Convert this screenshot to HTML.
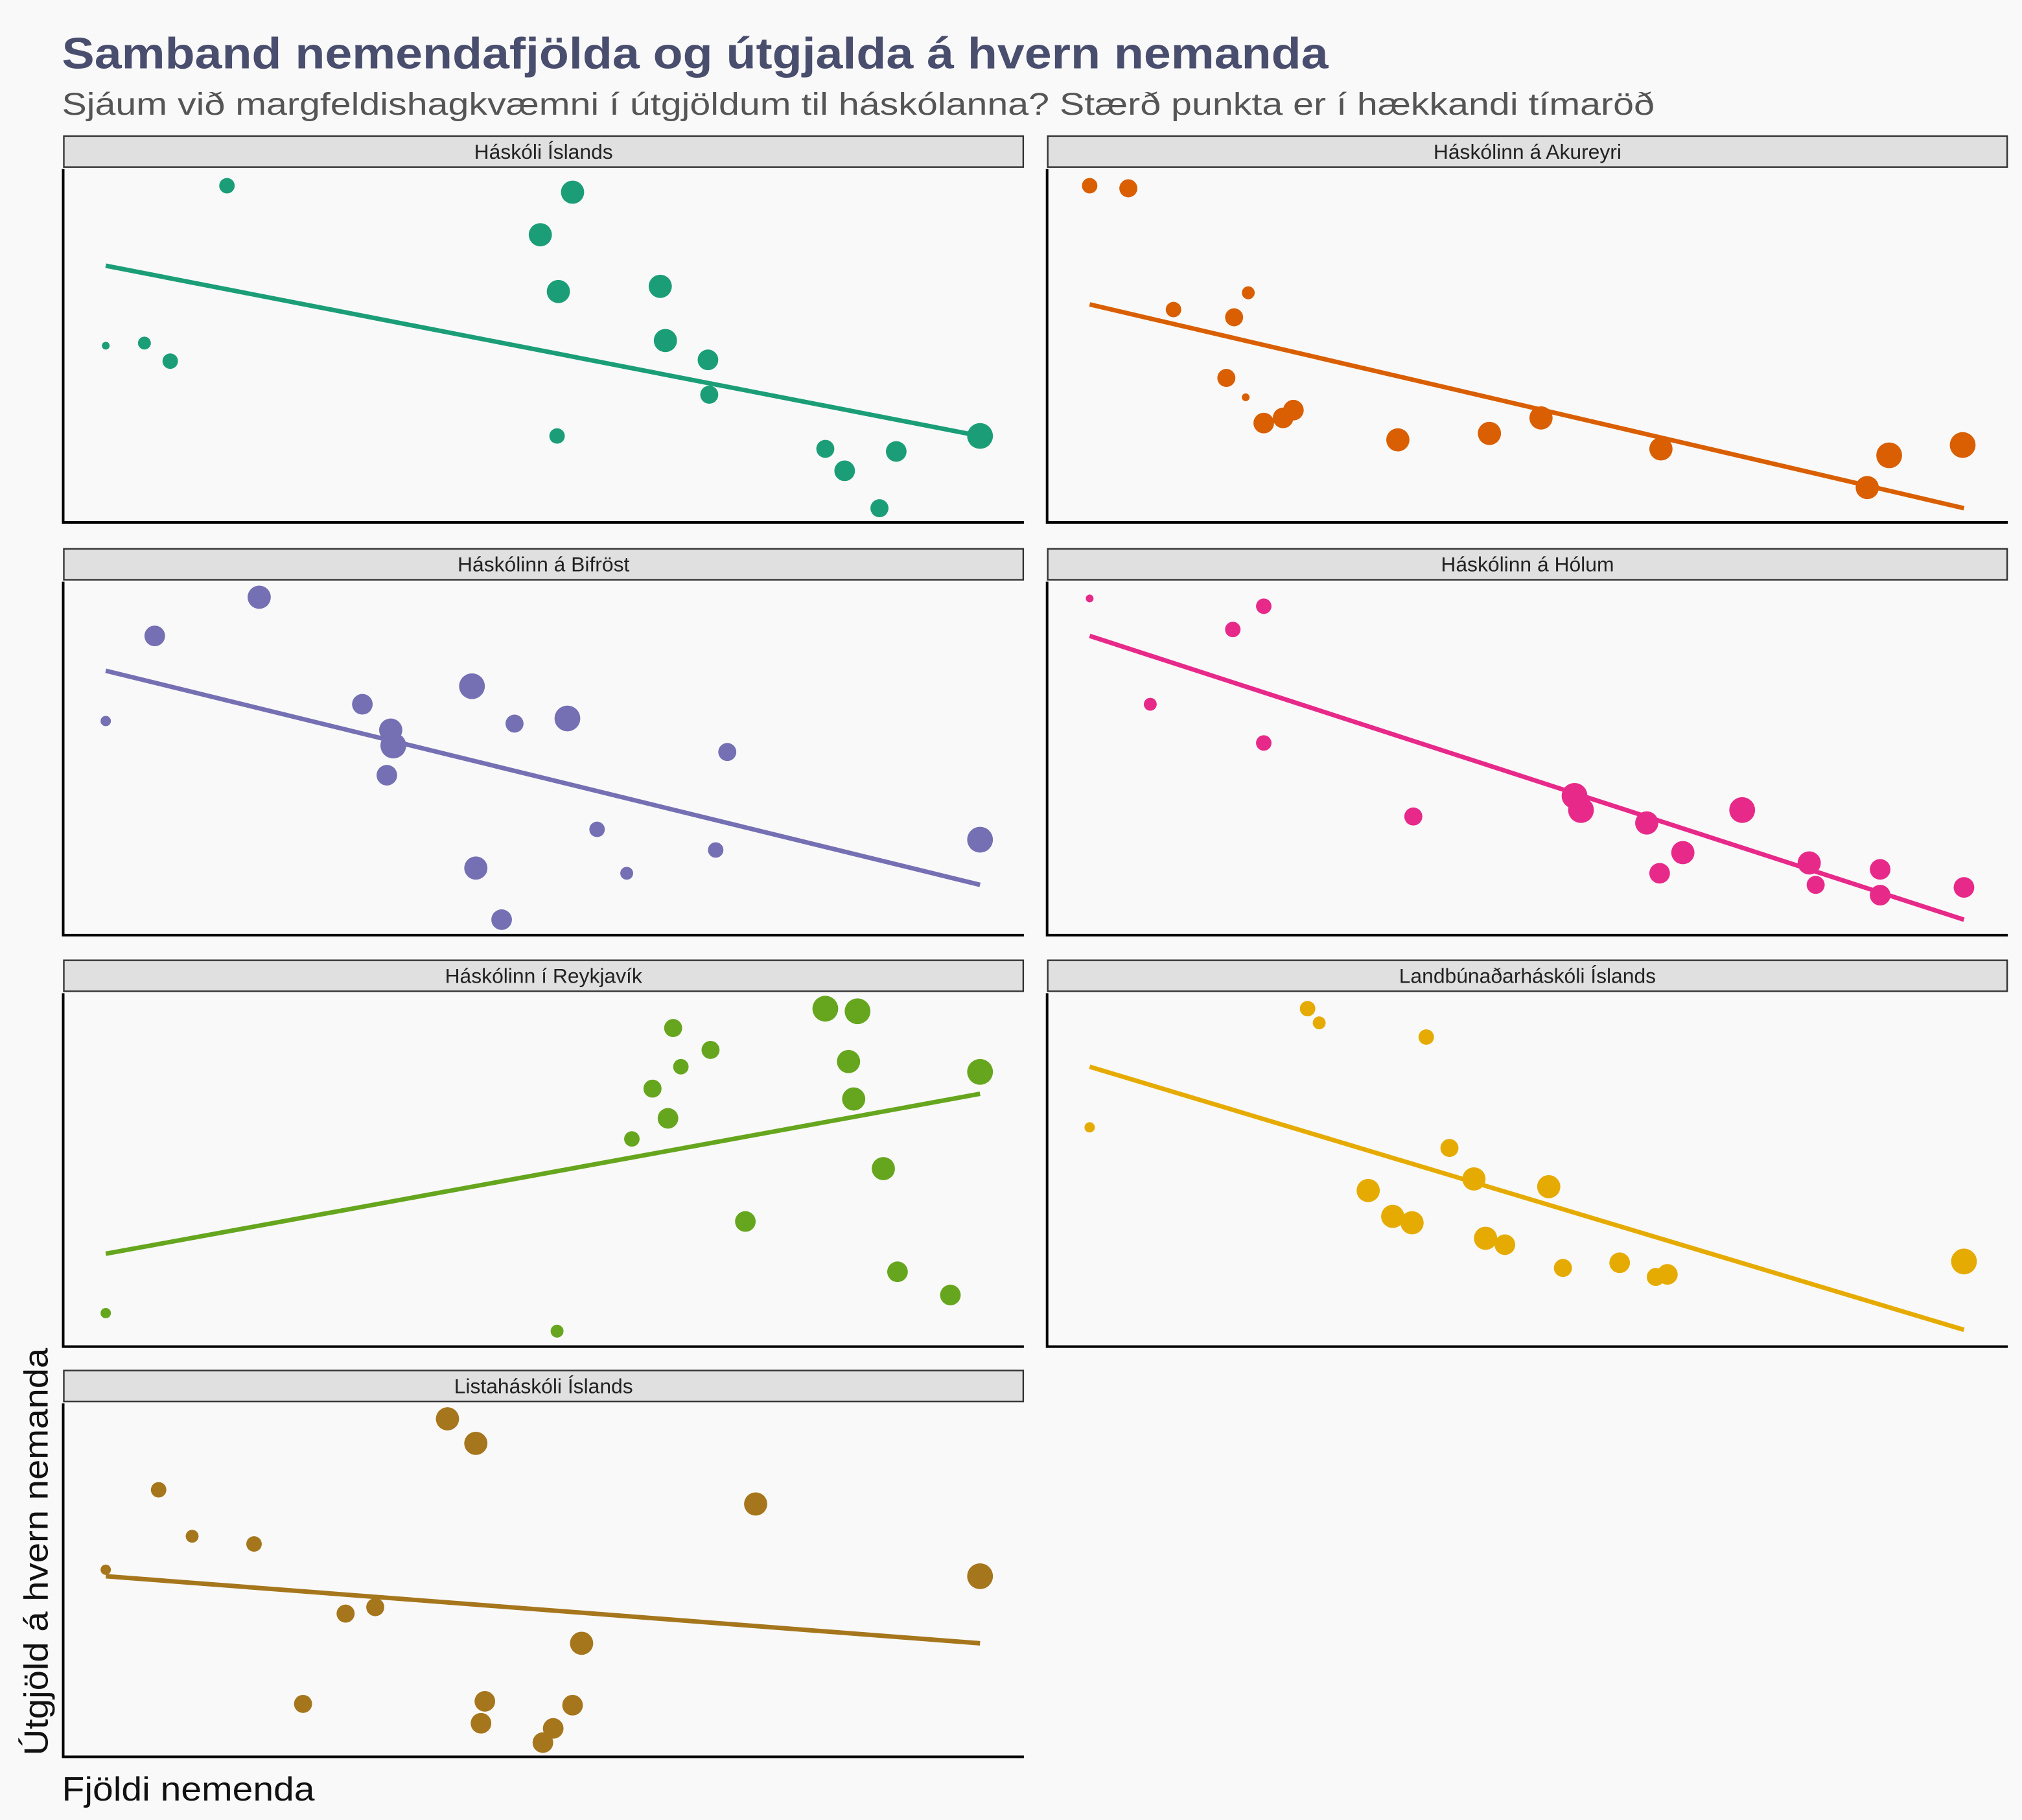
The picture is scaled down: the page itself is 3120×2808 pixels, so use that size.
<!DOCTYPE html>
<html><head><meta charset="utf-8"><style>
html,body{margin:0;padding:0;background:#f9f9f9;}
svg{display:block;font-family:"Liberation Sans",sans-serif;}
</style></head><body>
<svg id="chart" width="3120" height="2808" viewBox="0 0 1568 1411" preserveAspectRatio="none" xmlns="http://www.w3.org/2000/svg">
<rect width="1568" height="1411" fill="#f9f9f9"/>
<text x="48" y="53" font-size="34" font-weight="bold" fill="#4a4e6e" textLength="982" lengthAdjust="spacingAndGlyphs">Samband nemendafjölda og útgjalda á hvern nemanda</text>
<text x="48" y="89" font-size="24" fill="#555555" textLength="1235" lengthAdjust="spacingAndGlyphs">Sjáum við margfeldishagkvæmni í útgjöldum til háskólanna? Stærð punkta er í hækkandi tímaröð</text>
<text transform="translate(37,1361) rotate(-90)" font-size="26" fill="#111" textLength="316" lengthAdjust="spacingAndGlyphs">Útgjöld á hvern nemanda</text>
<text x="48" y="1396" font-size="26" fill="#111" textLength="196" lengthAdjust="spacingAndGlyphs">Fjöldi nemenda</text>
<g id="panels"></g>
</svg>
<script>
const panelNames = ["Háskóli Íslands","Háskólinn á Akureyri","Háskólinn á Bifröst","Háskólinn á Hólum","Háskólinn í Reykjavík","Landbúnaðarháskóli Íslands","Listaháskóli Íslands"];
const panelColors = ["#1b9e77","#d95f02","#7570b3","#e7298a","#66a61e","#e6ab02","#a6761d"];
const studentsHI = [0,30,50,94,337,362,351,350,430,434,467,468,558,573,600,613,678];
const spendHI = [125,127,113,249,211,244,167,55,171,129,114,87,45,28,-1,43,55];
const sizeHI = [3,5,6,6,9,9,9,6,9,9,8,7,7,8,7,8,10];
const studentsHA = [0,30,65,112,123,106,121,135,150,158,239,310,350,443,603,620,677];
const spendHA = [249,247,153,147,166,100,85,65,69,75,52,57,69,45,15,40,48];
const sizeHA = [6,7,6,7,5,7,3,8,8,8,9,9,9,9,9,10,10];
const studentsBI = [0,38,119,199,221,223,218,284,317,358,287,307,381,404,473,482,678];
const spendBI = [154,220,250,167,147,135,112,181,152,156,40,0,70,36,54,130,62];
const sizeBI = [4,8,9,8,9,10,8,10,7,10,9,8,6,5,6,7,10];
const studentsHO = [0,47,111,135,135,251,376,381,432,460,442,506,558,563,613,613,678];
const spendHO = [249,167,225,243,137,80,96,85,75,52,36,85,44,27,39,19,25];
const sizeHO = [3,5,6,6,6,7,10,10,9,9,8,10,9,7,8,8,8];
const studentsHR = [0,350,408,424,436,440,446,469,496,558,583,576,580,603,614,655,678];
const spendHR = [14,0,149,188,165,235,205,218,85,250,248,209,180,126,46,28,201];
const sizeHR = [4,5,6,7,8,7,6,7,8,10,10,9,9,9,8,8,10];
const studentsLB = [0,169,178,261,279,216,235,250,298,307,322,356,367,411,439,448,678];
const spendLB = [158,250,239,228,142,109,89,84,118,72,67,112,49,53,42,44,54];
const sizeLB = [4,6,5,6,7,9,9,9,9,9,8,9,7,8,7,8,10];
const studentsLH = [0,41,67,115,153,186,209,265,287,504,678,369,294,291,362,347,339];
const spendLH = [133,195,159,153,29,99,104,250,231,184,128,76,31,14,28,10,-1];
const sizeLH = [4,6,5,6,7,7,7,9,9,9,10,9,8,8,8,8,8];
const fitStart = [187,157,193,220,60,205,128];
const fitEnd = [55,-1,27,0,184,1,76];
const allX = [studentsHI,studentsHA,studentsBI,studentsHO,studentsHR,studentsLB,studentsLH];
const allY = [spendHI,spendHA,spendBI,spendHO,spendHR,spendLB,spendLH];
const allS = [sizeHI,sizeHA,sizeBI,sizeHO,sizeHR,sizeLB,sizeLH];
const xMax = 678, yMax = 250;

const NS = "http://www.w3.org/2000/svg";
const root = document.getElementById("panels");
const colLeft = [49,812], panelW = 745;
const rowTop = [105,425,744,1062];
function mk(tag, attrs, parent){const e=document.createElementNS(NS,tag);for(const k in attrs)e.setAttribute(k,attrs[k]);parent.appendChild(e);return e;}
panelNames.forEach((name,i)=>{
  const col=i%2,row=Math.floor(i/2);
  const L=colLeft[col], T=rowTop[row], pT=T+26, pB=T+300;
  const sx=v=>L+33+v/xMax*678;
  const sy=v=>pT+262-(v/yMax)*250;
  const g=mk("g",{},root);
  
  
  const strip=mk("rect",{x:L+0.5,y:T+0.5,width:panelW-1,height:24,fill:"#e0e0e0",stroke:"#333","stroke-width":1.2},g);
  
  
  const st=mk("text",{x:L+panelW/2,y:T+18,"font-size":16,"text-anchor":"middle",fill:"#222"},g);
  st.textContent=name;
  
  
  const ax=mk("path",{d:`M${L},${pT} V${pB} H${L+panelW}`,fill:"none",stroke:"#000","stroke-width":2},g);
  
  
  const ln=mk("line",{x1:sx(0),y1:sy(fitStart[i]),x2:sx(xMax),y2:sy(fitEnd[i]),stroke:panelColors[i],"stroke-width":3.5},g);
  
  
  allX[i].forEach((xv,j)=>{
    const c=mk("circle",{cx:sx(xv),cy:sy(allY[i][j]),r:allS[i][j],fill:panelColors[i]},g);
    
    
  });
});
</script>
</body></html>
